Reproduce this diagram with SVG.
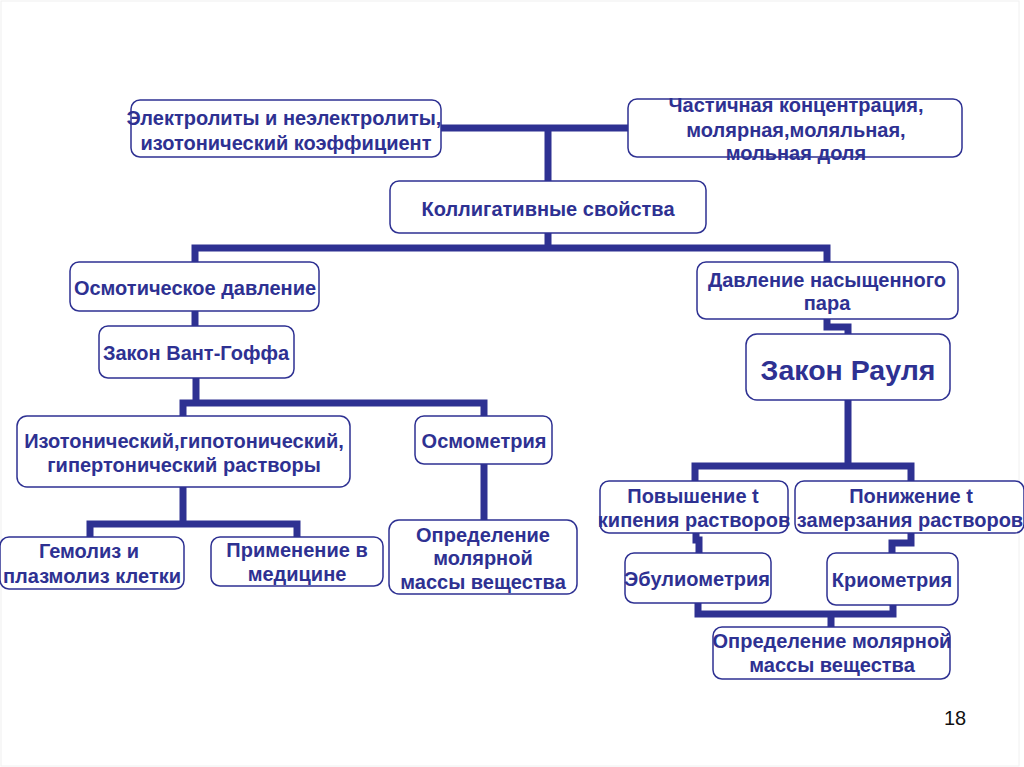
<svg xmlns="http://www.w3.org/2000/svg" width="1024" height="767" viewBox="0 0 1024 767">
<style>
.b{fill:#fff;stroke:#2E3192;stroke-width:1.5}
.t{font-family:"Liberation Sans",Arial,sans-serif;font-weight:bold;font-size:20px;fill:#2E3192;text-anchor:middle}
.big{font-size:28.5px}
.c{fill:none;stroke:#2E3192;stroke-width:7;stroke-linejoin:miter;stroke-linecap:butt}
.pn{font-family:"Liberation Sans",Arial,sans-serif;font-size:20px;fill:#111;text-anchor:middle}
</style>
<rect x="0" y="0" width="1024" height="767" fill="#fff"/>
<rect x="1" y="1" width="1018" height="765" fill="none" stroke="#f0f0f0" stroke-width="1"/>
<g id="connectors">
<path class="c" d="M441 128H628M548 128V181"/>
<path class="c" d="M548 233V248M195 262V248H827V262"/>
<path class="c" d="M195 311V326"/>
<path class="c" d="M196 378V403M183 416V403H484V416"/>
<path class="c" d="M183 487V524M90 537V524H297V537"/>
<path class="c" d="M484 464V520"/>
<path class="c" d="M827 319V327H848V334"/>
<path class="c" d="M848 400V466M695 481V466H911V481"/>
<path class="c" d="M696 533V540H699V553"/>
<path class="c" d="M911 533V543H892V553"/>
<path class="c" d="M698 603V614H893V605M831 614V627"/>
</g>
<g id="n1"><rect class="b" x="131" y="100" width="310" height="57" rx="9"/>
<text class="t" x="284" y="125">Электролиты и неэлектролиты,</text><text class="t" x="286" y="150">изотонический коэффициент</text></g>
<g id="n2"><rect class="b" x="628" y="99" width="334" height="58" rx="9"/>
<text class="t" x="796" y="112">Частичная концентрация,</text><text class="t" x="796" y="137">молярная,моляльная,</text><text class="t" x="796" y="160">мольная доля</text></g>
<g id="n3"><rect class="b" x="390" y="181" width="316" height="52" rx="9"/>
<text class="t" x="548" y="216">Коллигативные свойства</text></g>
<g id="n4"><rect class="b" x="70" y="262" width="249" height="49" rx="9"/>
<text class="t" x="195" y="295">Осмотическое давление</text></g>
<g id="n5"><rect class="b" x="99" y="326" width="195" height="52" rx="9"/>
<text class="t" x="196" y="360">Закон Вант-Гоффа</text></g>
<g id="n6"><rect class="b" x="17" y="416" width="333" height="71" rx="10"/>
<text class="t" x="184" y="448">Изотонический,гипотонический,</text><text class="t" x="184" y="472">гипертонический растворы</text></g>
<g id="n7"><rect class="b" x="415" y="416" width="137" height="48" rx="9"/>
<text class="t" x="484" y="448">Осмометрия</text></g>
<g id="n8"><rect class="b" x="0" y="537" width="184" height="52" rx="9"/>
<text class="t" x="89" y="558">Гемолиз и</text><text class="t" x="92" y="583">плазмолиз клетки</text></g>
<g id="n9"><rect class="b" x="211" y="537" width="172" height="49" rx="9"/>
<text class="t" x="297" y="557">Применение в</text><text class="t" x="297" y="581">медицине</text></g>
<g id="n10"><rect class="b" x="389" y="520" width="188" height="74" rx="10"/>
<text class="t" x="483" y="542">Определение</text><text class="t" x="483" y="565">молярной</text><text class="t" x="483" y="589">массы вещества</text></g>
<g id="n11"><rect class="b" x="697" y="262" width="261" height="57" rx="9"/>
<text class="t" x="827" y="287">Давление насыщенного</text><text class="t" x="827" y="310">пара</text></g>
<g id="n12"><rect class="b" x="746" y="334" width="204" height="66" rx="11"/>
<text class="t big" x="848" y="380">Закон Рауля</text></g>
<g id="n13"><rect class="b" x="600" y="481" width="188" height="52" rx="9"/>
<text class="t" x="693" y="503">Повышение t</text><text class="t" x="694" y="527">кипения растворов</text></g>
<g id="n14"><rect class="b" x="795" y="481" width="229" height="52" rx="9"/>
<text class="t" x="911" y="503">Понижение t</text><text class="t" x="910" y="527">замерзания растворов</text></g>
<g id="n15"><rect class="b" x="625" y="553" width="146" height="50" rx="9"/>
<text class="t" x="697" y="586">Эбулиометрия</text></g>
<g id="n16"><rect class="b" x="827" y="553" width="131" height="52" rx="9"/>
<text class="t" x="892" y="587">Криометрия</text></g>
<g id="n17"><rect class="b" x="713" y="627" width="237" height="52" rx="9"/>
<text class="t" x="832" y="648">Определение молярной</text><text class="t" x="832" y="672">массы вещества</text></g>
<text class="pn" x="955" y="725">18</text>
</svg>
